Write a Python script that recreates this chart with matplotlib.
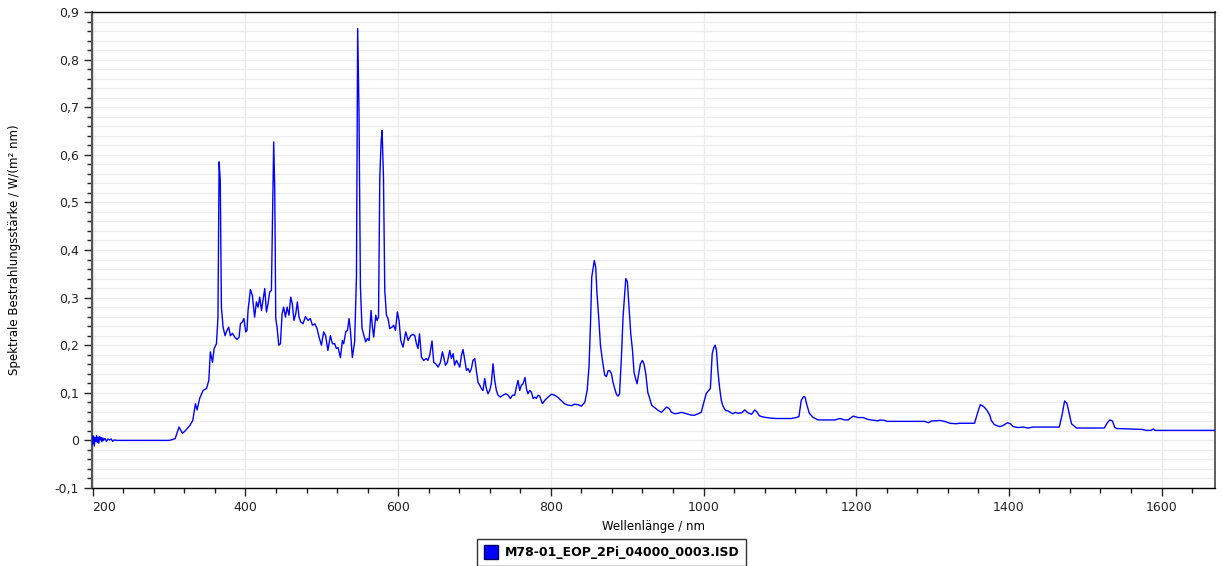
import matplotlib
matplotlib.use("Agg")
import matplotlib.pyplot as plt
from matplotlib.ticker import MultipleLocator, FuncFormatter
from matplotlib.lines import Line2D
from matplotlib.transforms import ScaledTranslation

wavelength = [
    199, 200, 201, 202, 203, 204, 205, 206, 207, 208, 209, 210, 211, 212, 213, 214, 216, 218, 220, 222,
    224, 226, 228, 232, 300, 305, 308,
    313, 317.5, 321, 327, 331, 334.5, 336.6, 340, 344.5, 349, 352, 354, 356.8, 359, 362, 364, 365.5, 367,
    368.5, 370.7, 373.3, 375, 378, 380.3, 383, 386, 389, 391.7, 393.4, 396, 398, 400.4, 402, 403.4, 406.5,
    409, 412, 414.4, 416.5, 418.7, 421, 423, 425.3, 427.5, 429.6, 431.8, 434, 435.3, 437, 438.4, 439.7,
    441.4, 443.6, 445.8, 448, 450, 452.4, 454.5, 457, 459.3, 461.4, 463.5, 465.9, 468, 470.2, 472.4, 475.4,
    478.6, 482, 485, 487.7, 490.8, 493.8, 496.4, 499.5, 502.5, 505, 508, 511.3, 514, 517, 519, 521.3,
    524.4, 527, 528.7, 531.4, 533.6, 535.7, 537.5, 540, 543, 545.4, 547, 548.7, 550.6, 552.7, 555.3, 557.5,
    559.8, 562, 564.5, 566.3, 568, 570.7, 572.4, 574.3, 576, 577.7, 579, 580.8, 582.5, 584.7, 586.8, 589,
    592, 594.2, 596.5, 599, 601.2, 603.4, 606.4, 610, 613, 616.5, 619.6, 621.8, 624, 626, 628, 630.5,
    633.5, 637, 639, 641.4, 644.4, 646.6, 649.3, 652.3, 655.4, 658, 659.7, 662, 664.5, 667.6, 669.7, 672,
    674, 676.4, 678.5, 680.7, 683, 685, 687.3, 689.5, 691.6, 693.8, 696, 698, 700.3, 702.5, 704.6, 706.9,
    709, 711.2, 713.4, 715.6, 717.7, 720, 722, 724.3, 726.5, 728.7, 730.8, 734, 737.4, 741, 744, 747,
    749.7, 752.7, 754.9, 757, 759.3, 761.5, 763.6, 766.2, 768, 770, 772.5, 774.6, 776.8, 779, 781, 783.3,
    785.5, 789, 792, 796.5, 800.9, 805, 809.5, 814, 818, 822.6, 827, 831.4, 835.7, 840, 844.5, 847.6,
    850, 852, 853.6, 855.4, 857, 858.8, 860.5, 862.7, 865, 867.6, 870.6, 872.8, 875, 877, 879.4, 881.5,
    883.7, 885.9, 888, 890, 892.5, 894.6, 896.8, 898.2, 900.3, 902.5, 904.7, 907, 909, 911.3, 913, 914.8,
    917.4, 920, 922, 924.4, 927, 929.6, 932, 936, 940.6, 945, 948, 951.6, 955, 958, 962.5, 966.8,
    971, 975.6, 980, 984, 988.5, 993, 997, 1000, 1003.6, 1007, 1009, 1011.4, 1013.5, 1015.3, 1017, 1018.8,
    1021, 1023.3, 1025.5, 1028.7, 1032, 1035, 1038.6, 1042, 1045, 1050, 1054, 1058, 1063, 1067, 1070, 1073,
    1076, 1082, 1087, 1095, 1100, 1115, 1121.5, 1125, 1128, 1131, 1133, 1135, 1138.6, 1143, 1150, 1161,
    1172, 1178.6, 1185, 1189.5, 1196, 1202.5, 1209, 1215.6, 1224, 1228.6, 1231, 1237.5, 1240, 1257, 1275, 1290,
    1294.4, 1299, 1305, 1309, 1316, 1322.6, 1331, 1335.5, 1355, 1358.7, 1362.5, 1367, 1371, 1375, 1377, 1381,
    1388, 1392, 1398, 1402, 1405.6, 1412, 1418.6, 1425, 1431.7, 1436, 1449, 1466, 1470, 1473, 1476, 1479,
    1482, 1488.5, 1506, 1525, 1528.6, 1532, 1535.6, 1538.5, 1540.7, 1558, 1575, 1580, 1586, 1589, 1592, 1606,
    1670,
]

irradiance = [
    0.010, -0.008, 0.009, -0.012, 0.006, -0.002, 0.010, -0.004, 0.007, -0.006, 0.008, 0.001, 0.006, -0.003, 0.005, 0.000, 0.004, -0.002, 0.003, 0.001,
    0.003, -0.002, 0.001, 0.000, 0.000, 0.002, 0.004,
    0.028, 0.015, 0.020, 0.031, 0.042, 0.077, 0.064, 0.088, 0.105, 0.109, 0.126, 0.186, 0.164, 0.193, 0.203, 0.259, 0.585, 0.546,
    0.280, 0.238, 0.220, 0.228, 0.238, 0.220, 0.225, 0.217, 0.212, 0.217, 0.245, 0.249, 0.256, 0.228, 0.231, 0.273, 0.317,
    0.305, 0.259, 0.291, 0.280, 0.301, 0.273, 0.294, 0.319, 0.270, 0.287, 0.312, 0.315, 0.455, 0.627, 0.525, 0.256,
    0.238, 0.200, 0.203, 0.266, 0.280, 0.259, 0.280, 0.263, 0.301, 0.287, 0.252, 0.266, 0.291, 0.259, 0.249, 0.245,
    0.260, 0.252, 0.256, 0.242, 0.245, 0.235, 0.217, 0.200, 0.228, 0.220, 0.189, 0.220, 0.203, 0.203, 0.193, 0.195,
    0.174, 0.210, 0.203, 0.228, 0.231, 0.256, 0.231, 0.174, 0.207, 0.343, 0.865, 0.693, 0.322, 0.235, 0.220, 0.207,
    0.214, 0.210, 0.273, 0.238, 0.217, 0.263, 0.252, 0.259, 0.553, 0.627, 0.651, 0.553, 0.315, 0.263, 0.256, 0.235,
    0.238, 0.242, 0.231, 0.270, 0.252, 0.210, 0.196, 0.228, 0.210, 0.220, 0.223, 0.220, 0.203, 0.193, 0.224, 0.175,
    0.168, 0.172, 0.168, 0.179, 0.209, 0.164, 0.161, 0.154, 0.164, 0.186, 0.175, 0.158, 0.164, 0.189, 0.172, 0.182,
    0.158, 0.168, 0.161, 0.154, 0.179, 0.191, 0.168, 0.147, 0.151, 0.143, 0.151, 0.168, 0.172, 0.147, 0.122, 0.116,
    0.109, 0.105, 0.130, 0.109, 0.098, 0.105, 0.119, 0.161, 0.126, 0.105, 0.095, 0.091, 0.095, 0.098, 0.095, 0.088,
    0.095, 0.095, 0.112, 0.126, 0.105, 0.116, 0.119, 0.132, 0.109, 0.098, 0.105, 0.101, 0.088, 0.091, 0.088, 0.095,
    0.093, 0.077, 0.084, 0.091, 0.097, 0.095, 0.090, 0.083, 0.077, 0.074, 0.073, 0.076, 0.075, 0.072, 0.080, 0.105,
    0.154, 0.245, 0.343, 0.361, 0.378, 0.364, 0.308, 0.259, 0.200, 0.168, 0.137, 0.134, 0.146, 0.147, 0.140, 0.122,
    0.109, 0.097, 0.093, 0.098, 0.175, 0.259, 0.308, 0.340, 0.333, 0.280, 0.224, 0.189, 0.143, 0.128, 0.119, 0.137,
    0.161, 0.168, 0.161, 0.140, 0.101, 0.088, 0.074, 0.069, 0.063, 0.059, 0.064, 0.070, 0.067, 0.059, 0.056, 0.057,
    0.059, 0.057, 0.055, 0.053, 0.053, 0.056, 0.059, 0.077, 0.099, 0.105, 0.109, 0.182, 0.195, 0.200, 0.189, 0.147,
    0.112, 0.084, 0.072, 0.063, 0.062, 0.059, 0.056, 0.059, 0.057, 0.058, 0.064, 0.058, 0.055, 0.064, 0.060, 0.052,
    0.050, 0.048, 0.047, 0.046, 0.046, 0.046, 0.048, 0.050, 0.084, 0.092, 0.091, 0.077, 0.057, 0.049, 0.043, 0.043,
    0.043, 0.046, 0.043, 0.043, 0.051, 0.048, 0.048, 0.044, 0.042, 0.041, 0.043, 0.042, 0.040, 0.040, 0.040, 0.040,
    0.037, 0.041, 0.041, 0.042, 0.040, 0.036, 0.035, 0.036, 0.036, 0.056, 0.075, 0.071, 0.064, 0.053, 0.042, 0.033,
    0.029, 0.031, 0.037, 0.035, 0.029, 0.027, 0.028, 0.026, 0.028, 0.028, 0.028, 0.028, 0.056, 0.083, 0.078, 0.056,
    0.035, 0.026, 0.026, 0.026, 0.036, 0.043, 0.041, 0.028, 0.025, 0.024, 0.023, 0.021, 0.021, 0.024, 0.021, 0.021,
    0.021,
]

series_label = "M78-01_EOP_2Pi_04000_0003.ISD"
x_label = "Wellenlänge / nm"
y_label = "Spektrale Bestrahlungsstärke / W/(m² nm)"

plt.rcParams['font.family'] = ['DejaVu Sans']

fig = plt.figure(figsize=(12.23, 5.66), dpi=100)
ax = fig.add_axes([92 / 1223, 1 - 488 / 566, (1215 - 92) / 1223, (488 - 12) / 566])

ax.plot(wavelength, irradiance, color='#0000FF', lw=1.0, zorder=3)

ax.set_xlim(199, 1670)
ax.set_ylim(-0.1, 0.9)
ax.xaxis.set_major_locator(MultipleLocator(200))
ax.xaxis.set_minor_locator(MultipleLocator(40))
ax.yaxis.set_major_locator(MultipleLocator(0.1))
ax.yaxis.set_minor_locator(MultipleLocator(0.02))

def yfmt(v, pos):
    if abs(v) < 1e-9:
        return "0"
    return ("%.1f" % v).replace(".", ",")

ax.yaxis.set_major_formatter(FuncFormatter(yfmt))

ax.grid(True, which='major', axis='x', color='#ececec', lw=1.0, zorder=0)
ax.grid(True, which='both', axis='y', color='#ececec', lw=1.0, zorder=0)

ax.tick_params(axis='both', which='major', direction='out', length=6, width=1, labelsize=9, colors='#222222')
ax.tick_params(axis='both', which='minor', direction='out', length=3.5, width=1, colors='#222222')

for s in ['top', 'bottom']:
    ax.spines[s].set_color('#000000')
    ax.spines[s].set_linewidth(1.0)
ax.spines['left'].set_color('#555555')
ax.spines['left'].set_linewidth(1.6)
ax.spines['right'].set_color('#444444')
ax.spines['right'].set_linewidth(1.2)

ax.set_xlabel(x_label, fontsize=8.5, labelpad=4)
ax.set_ylabel(y_label, fontsize=8.5, labelpad=24)

fig.canvas.draw()
for lbl in ax.get_xticklabels():
    if lbl.get_text() == "200":
        lbl.set_horizontalalignment('left')
        lbl.set_transform(lbl.get_transform() + ScaledTranslation(-1 / 100, 0, fig.dpi_scale_trans))

handle = Line2D([], [], linestyle='none', marker='s', markersize=10,
                markerfacecolor='#0000FF', markeredgecolor='#000066')
leg = fig.legend([handle], [series_label], loc='upper center',
                 bbox_to_anchor=(0.5, 1 - 539 / 566), frameon=True, fancybox=False,
                 prop={'weight': 'bold', 'size': 9}, handletextpad=0.5,
                 borderpad=0.55, handlelength=1.2, borderaxespad=0)
leg.get_frame().set_edgecolor('#000000')
leg.get_frame().set_linewidth(1.0)

fig.savefig("out.png", dpi=100)
